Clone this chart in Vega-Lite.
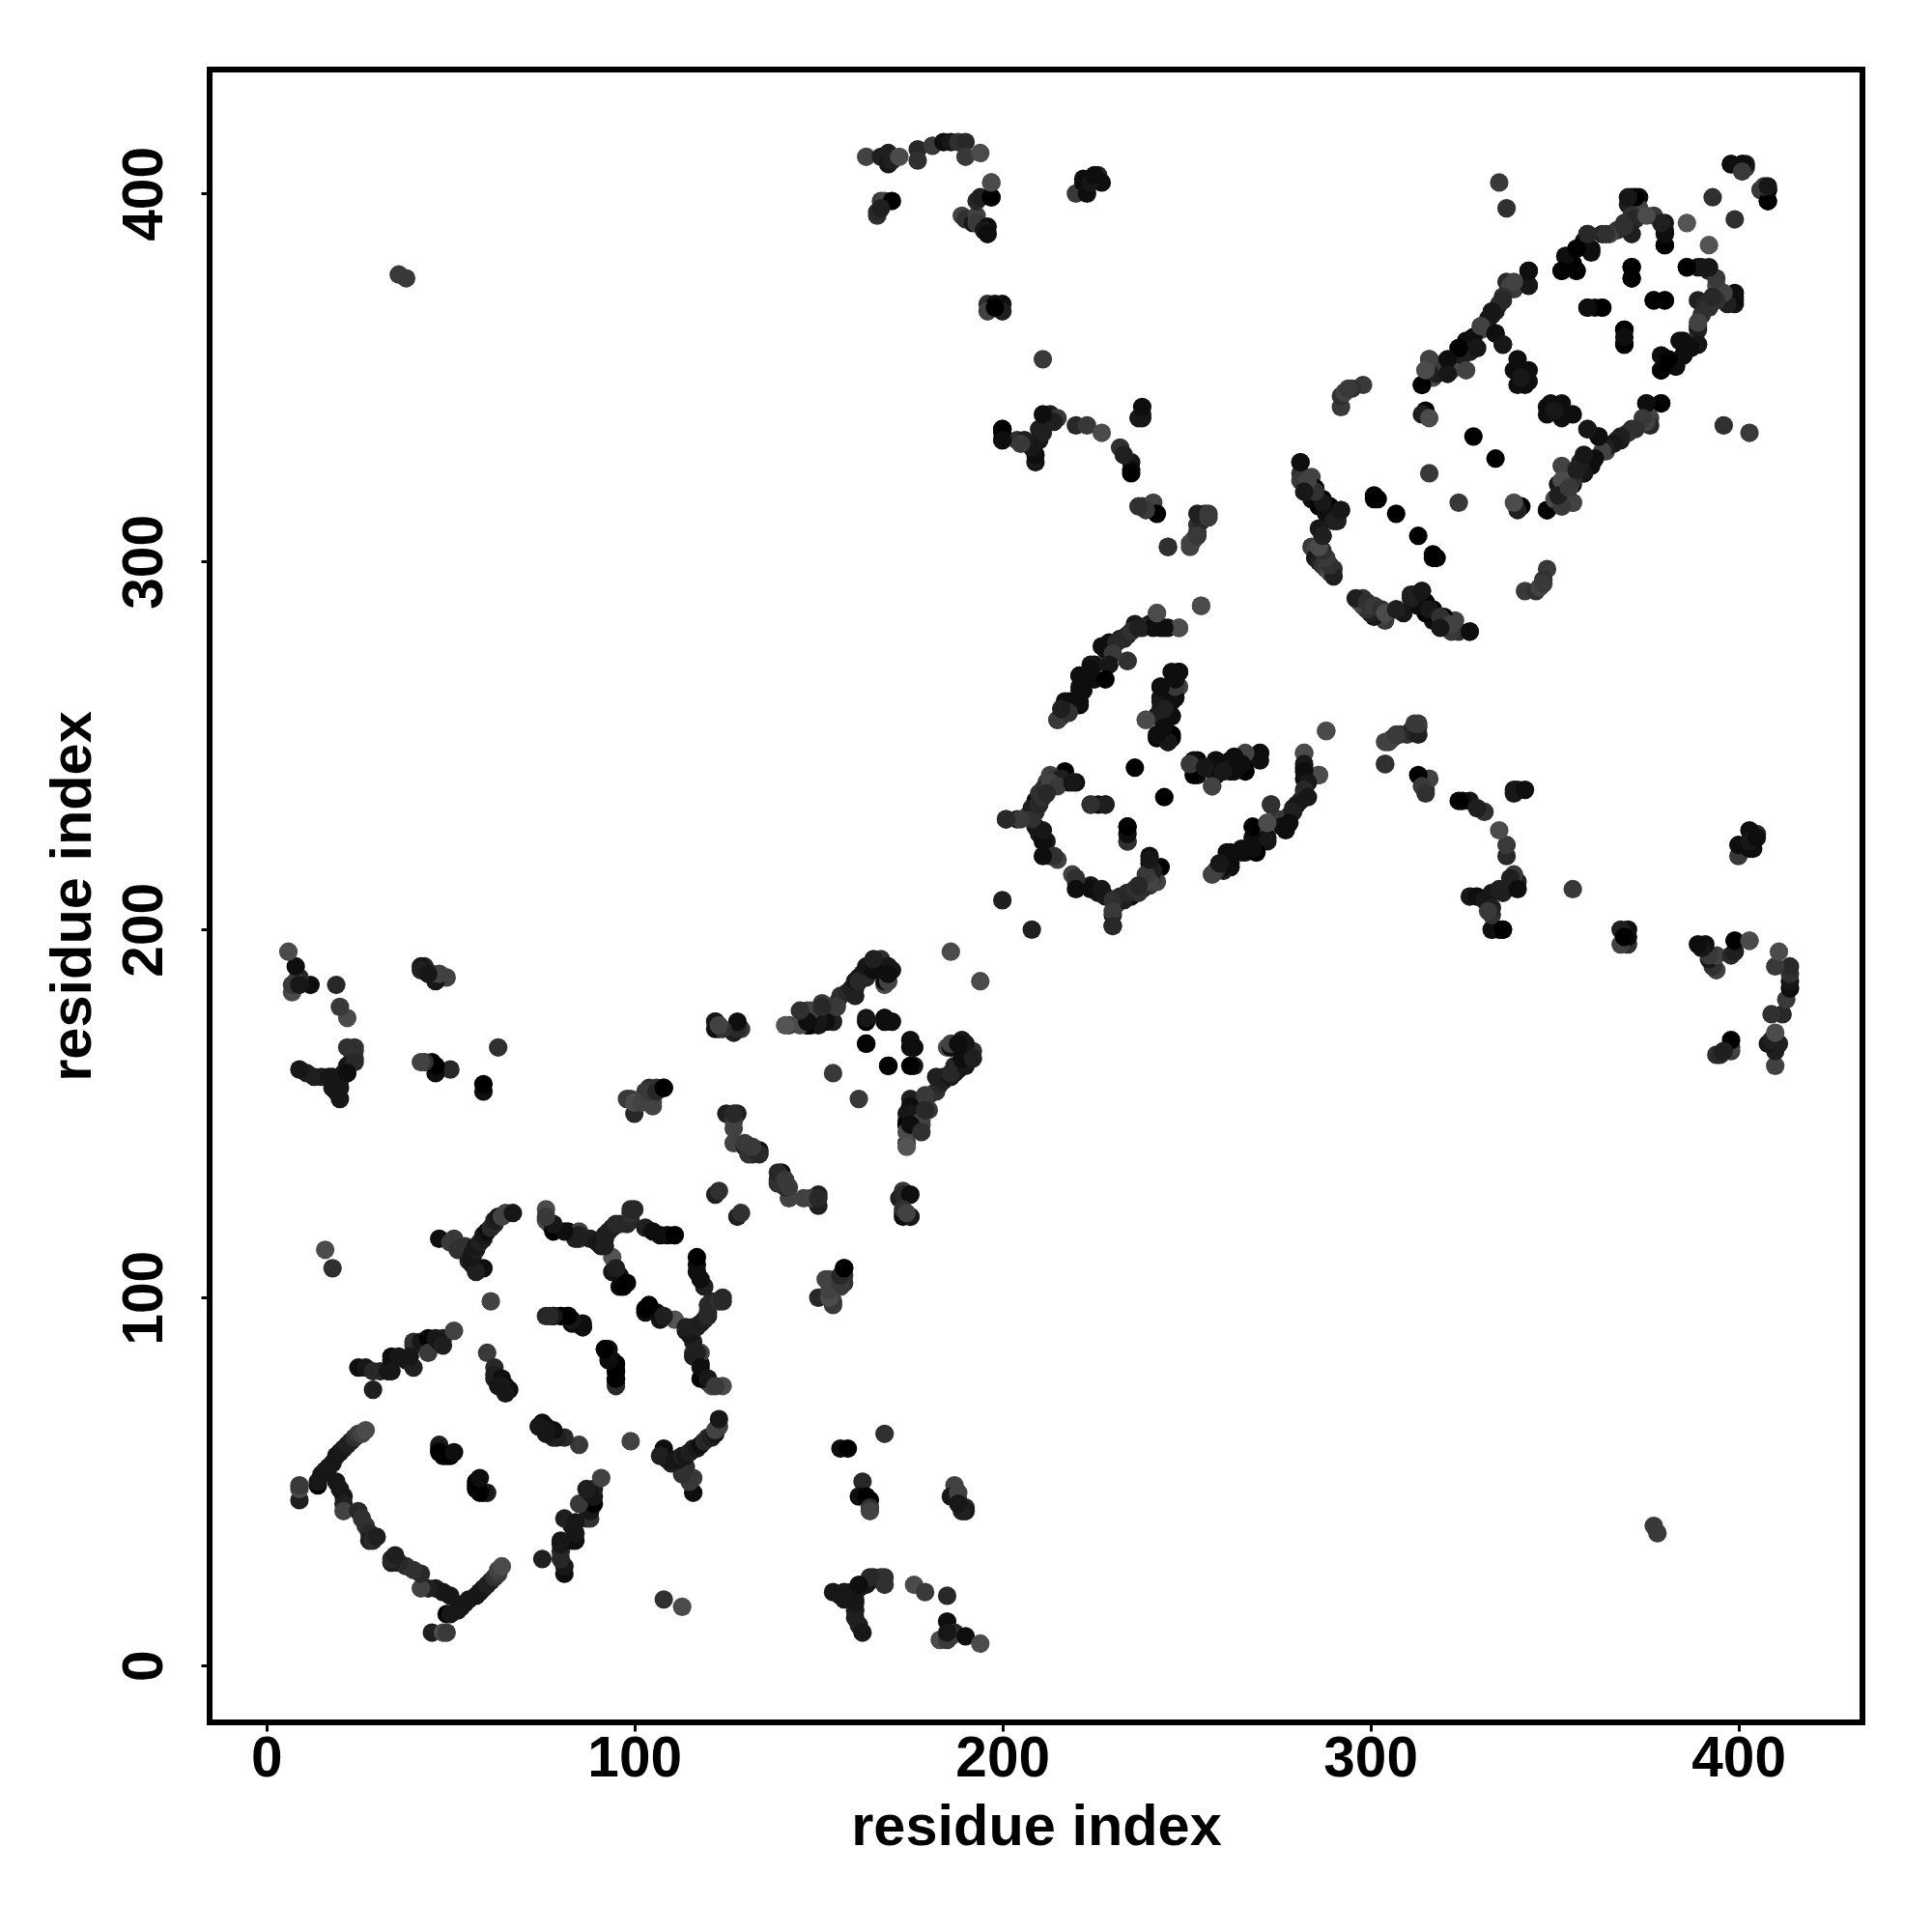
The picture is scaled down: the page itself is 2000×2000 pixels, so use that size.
{"$schema":"https://vega.github.io/schema/vega-lite/v6.json","autosize":{"type":"none"},"padding":{"left":217,"top":72,"right":72,"bottom":217},"width":1711,"height":1711,"background":"white","view":{"stroke":"black","strokeWidth":6,"fill":"white"},"datasets":{"contacts":[
{"a":9,"b":45,"p":0.7},{"a":9,"b":48,"p":0.2},{"a":9,"b":49,"p":0.4},{"a":14,"b":49,"p":1},{"a":14,"b":50,"p":0.8},{"a":15,"b":52,"p":0.8},{"a":16,"b":53,"p":0.8},{"a":17,"b":54,"p":0.8},{"a":18,"b":55,"p":0.8},{"a":19,"b":57,"p":0.8},{"a":20,"b":58,"p":0.8},{"a":21,"b":59,"p":0.8},{"a":22,"b":60,"p":0.7},{"a":23,"b":61,"p":0.7},{"a":24,"b":62,"p":0.5},{"a":25,"b":63,"p":0.4},{"a":26,"b":63,"p":0.3},{"a":27,"b":64,"p":0.2},
{"a":19,"b":50,"p":0.8},{"a":20,"b":48,"p":0.8},{"a":21,"b":46,"p":0.8},{"a":21,"b":44,"p":0.7},{"a":21,"b":42,"p":0.3},{"a":25,"b":42,"p":0.6},{"a":26,"b":40,"p":0.5},{"a":27,"b":38,"p":0.5},{"a":28,"b":36,"p":0.6},{"a":28,"b":34,"p":0.7},{"a":29,"b":34,"p":0.6},{"a":30,"b":35,"p":0.7},
{"a":47,"b":60,"p":0.7},{"a":47,"b":59,"p":0.8},{"a":47,"b":58,"p":1},{"a":48,"b":57,"p":1},{"a":49,"b":57,"p":1},{"a":50,"b":57,"p":1},{"a":51,"b":58,"p":0.9},
{"a":25,"b":81,"p":0.9},{"a":27,"b":81,"p":0.8},{"a":29,"b":80,"p":0.6},{"a":29,"b":75,"p":0.7},{"a":31,"b":80,"p":0.6},{"a":33,"b":80,"p":0.8},{"a":34,"b":83,"p":0.9},{"a":34,"b":84,"p":0.9},{"a":36,"b":84,"p":0.8},{"a":38,"b":83,"p":0.8},{"a":40,"b":81,"p":0.7},{"a":40,"b":87,"p":0.6},{"a":40,"b":88,"p":0.5},{"a":42,"b":88,"p":0.8},{"a":44,"b":89,"p":1},{"a":44,"b":85,"p":0.4},{"a":46,"b":89,"p":0.8},{"a":48,"b":89,"p":0.7},{"a":51,"b":91,"p":0.3},{"a":47,"b":88,"p":0.8},{"a":48,"b":87,"p":0.7},{"a":39,"b":84,"p":0.8},{"a":34,"b":80,"p":0.8},
{"a":60,"b":85,"p":0.4},{"a":62,"b":81,"p":0.6},{"a":62,"b":79,"p":0.7},{"a":62,"b":78,"p":0.7},{"a":64,"b":78,"p":0.9},{"a":65,"b":76,"p":0.9},{"a":63,"b":76,"p":0.8},{"a":66,"b":75,"p":0.9},{"a":61,"b":99,"p":0.3},{"a":65,"b":74,"p":0.8},{"a":64,"b":76,"p":0.8},
{"a":47,"b":116,"p":0.9},{"a":51,"b":116,"p":0.4},{"a":53,"b":113,"p":0.1},{"a":50,"b":115,"p":0.4},{"a":52,"b":113,"p":0.5},{"a":54,"b":114,"p":0.5},{"a":55,"b":110,"p":0.7},{"a":56,"b":110,"p":0.8},{"a":56,"b":109,"p":0.8},{"a":57,"b":108,"p":0.8},{"a":59,"b":108,"p":0.9},{"a":57,"b":107,"p":0.7},{"a":56,"b":111,"p":0.8},{"a":56,"b":112,"p":0.8},{"a":57,"b":113,"p":0.7},{"a":57,"b":114,"p":0.8},{"a":58,"b":115,"p":0.7},{"a":59,"b":116,"p":0.7},{"a":59,"b":117,"p":0.8},{"a":60,"b":118,"p":0.9},{"a":61,"b":119,"p":0.6},{"a":62,"b":120,"p":0.6},{"a":62,"b":121,"p":0.7},{"a":63,"b":122,"p":0.8},{"a":64,"b":122,"p":0.3},{"a":65,"b":123,"p":0.3},{"a":67,"b":123,"p":0.8},{"a":16,"b":113,"p":0.2},{"a":18,"b":108,"p":0.5},
{"a":76,"b":124,"p":0.2},{"a":76,"b":121,"p":0.2},{"a":77,"b":120,"p":0.3},{"a":78,"b":119,"p":0.7},{"a":78,"b":118,"p":1},{"a":82,"b":118,"p":0.9},{"a":84,"b":117,"p":0.5},{"a":85,"b":116,"p":0.4},{"a":85,"b":118,"p":0.3},{"a":88,"b":116,"p":0.7},{"a":90,"b":115,"p":0.8},{"a":91,"b":114,"p":0.8},{"a":92,"b":116,"p":0.8},{"a":92,"b":117,"p":0.7},{"a":93,"b":118,"p":0.7},{"a":94,"b":119,"p":0.7},{"a":95,"b":120,"p":0.6},{"a":96,"b":120,"p":0.6},{"a":98,"b":120,"p":0.6},{"a":99,"b":121,"p":0.6},{"a":99,"b":123,"p":0.5},{"a":100,"b":124,"p":0.6},{"a":99,"b":124,"p":0.6},
{"a":103,"b":119,"p":0.7},{"a":105,"b":118,"p":0.9},{"a":107,"b":117,"p":0.9},{"a":109,"b":117,"p":0.9},{"a":111,"b":117,"p":1},{"a":94,"b":111,"p":0.1},{"a":94,"b":107,"p":0.8},{"a":95,"b":107,"p":0.8},{"a":96,"b":106,"p":0.9},{"a":96,"b":103,"p":0.9},{"a":97,"b":103,"p":1},{"a":98,"b":104,"p":1},{"a":95,"b":108,"p":0.7},
{"a":76,"b":95,"p":0.6},{"a":78,"b":95,"p":1},{"a":80,"b":95,"p":1},{"a":82,"b":95,"p":1},{"a":83,"b":93,"p":0.9},{"a":84,"b":93,"p":0.9},{"a":86,"b":92,"p":1},{"a":92,"b":86,"p":0.9},{"a":93,"b":86,"p":0.9},{"a":94,"b":83,"p":0.8},{"a":95,"b":82,"p":1},{"a":95,"b":80,"p":1},{"a":95,"b":78,"p":0.8},{"a":95,"b":77,"p":0.6},
{"a":84,"b":116,"p":0.7},{"a":85,"b":117,"p":0.7},{"a":81,"b":118,"p":0.9},{"a":78,"b":120,"p":0.8},{"a":76,"b":122,"p":0.4},{"a":92,"b":114,"p":0.7},
{"a":108,"b":157,"p":1},{"a":105,"b":153,"p":0.2},{"a":104,"b":157,"p":0.5},{"a":103,"b":156,"p":0.4},{"a":100,"b":150,"p":0.6},{"a":99,"b":154,"p":0.3},{"a":106,"b":157,"p":0.5},
{"a":20,"b":154,"p":0.8},{"a":19,"b":156,"p":0.8},{"a":18,"b":157,"p":0.8},{"a":19,"b":158,"p":0.8},{"a":20,"b":159,"p":0.7},{"a":21,"b":161,"p":0.7},{"a":22,"b":162,"p":0.7},{"a":23,"b":164,"p":0.6},{"a":24,"b":165,"p":0.6},{"a":24,"b":167,"p":0.5},{"a":24,"b":168,"p":0.5},{"a":22,"b":168,"p":0.5},{"a":13,"b":160,"p":0.7},{"a":15,"b":160,"p":0.7},{"a":11,"b":161,"p":0.7},{"a":9,"b":162,"p":0.8},{"a":17,"b":160,"p":0.8},{"a":18,"b":160,"p":0.8},{"a":22,"b":176,"p":0.2},{"a":20,"b":179,"p":0.4},{"a":19,"b":185,"p":0.6},{"a":12,"b":185,"p":0.9},{"a":9,"b":187,"p":0.6},{"a":7,"b":183,"p":0.2},{"a":7,"b":185,"p":0.4},{"a":8,"b":186,"p":0.4},{"a":9,"b":185,"p":0.8},{"a":8,"b":190,"p":0.9},{"a":6,"b":194,"p":0.2},{"a":19,"b":159,"p":0.8},{"a":20,"b":157,"p":0.8},{"a":22,"b":163,"p":0.8},{"a":24,"b":164,"p":0.6},{"a":22,"b":161,"p":0.9},
{"a":59,"b":156,"p":0.9},{"a":59,"b":158,"p":1},{"a":63,"b":168,"p":0.5},{"a":50,"b":162,"p":0.6},{"a":46,"b":161,"p":0.9},{"a":46,"b":163,"p":1},{"a":45,"b":164,"p":1},{"a":43,"b":164,"p":0.5},{"a":42,"b":164,"p":0.3},{"a":49,"b":187,"p":0.3},{"a":46,"b":186,"p":0.8},{"a":45,"b":188,"p":0.6},{"a":43,"b":190,"p":0.6},{"a":42,"b":190,"p":0.8},{"a":47,"b":188,"p":0.3},{"a":42,"b":189,"p":0.7},{"a":44,"b":188,"p":0.8},
{"a":122,"b":175,"p":0.7},{"a":123,"b":173,"p":0.4},{"a":122,"b":173,"p":0.9},{"a":128,"b":174,"p":1},{"a":129,"b":173,"p":0.4},{"a":127,"b":172,"p":0.7},{"a":142,"b":174,"p":0.4},{"a":147,"b":174,"p":1},{"a":148,"b":174,"p":0.8},{"a":150,"b":174,"p":0.8},{"a":150,"b":175,"p":0.7},{"a":154,"b":175,"p":0.7},{"a":147,"b":178,"p":0.4},{"a":151,"b":180,"p":0.4},{"a":155,"b":180,"p":0.4},{"a":151,"b":178,"p":0.3},{"a":163,"b":175,"p":1},{"a":168,"b":176,"p":0.9},{"a":170,"b":175,"p":0.9},{"a":168,"b":175,"p":0.9},{"a":163,"b":169,"p":1},{"a":154,"b":161,"p":0.4},{"a":169,"b":163,"p":1},
{"a":156,"b":182,"p":0.5},{"a":158,"b":183,"p":0.6},{"a":159,"b":184,"p":0.7},{"a":160,"b":185,"p":0.7},{"a":161,"b":187,"p":0.7},{"a":162,"b":188,"p":0.8},{"a":163,"b":187,"p":0.6},{"a":164,"b":189,"p":0.6},{"a":165,"b":190,"p":0.6},{"a":166,"b":191,"p":0.5},{"a":167,"b":192,"p":0.5},{"a":169,"b":190,"p":0.8},{"a":170,"b":189,"p":0.8},{"a":168,"b":185,"p":0.2},{"a":160,"b":182,"p":0.7},{"a":160,"b":184,"p":0.7},{"a":160,"b":186,"p":0.8},{"a":161,"b":186,"p":0.6},{"a":163,"b":190,"p":0.8},{"a":165,"b":189,"p":0.9},{"a":165,"b":192,"p":0.7},{"a":168,"b":186,"p":0.9},{"a":169,"b":186,"p":0.3},{"a":169,"b":188,"p":0.9},{"a":186,"b":194,"p":0.2},{"a":176,"b":168,"p":0.9},{"a":176,"b":163,"p":0.8},{"a":152,"b":175,"p":0.9},{"a":147,"b":174,"p":1},{"a":155,"b":179,"p":0.4},{"a":150,"b":175,"p":0.8},{"a":145,"b":174,"p":0.2},{"a":148,"b":178,"p":0.3},
{"a":98,"b":154,"p":0.4},{"a":100,"b":153,"p":0.2},{"a":102,"b":153,"p":0.3},{"a":105,"b":152,"p":0.3},{"a":104,"b":156,"p":0.4},{"a":106,"b":156,"p":0.6},{"a":108,"b":157,"p":1},
{"a":125,"b":150,"p":0.7},{"a":128,"b":150,"p":0.7},{"a":127,"b":148,"p":0.4},{"a":127,"b":146,"p":0.3},{"a":127,"b":142,"p":0.3},{"a":130,"b":141,"p":0.6},{"a":131,"b":140,"p":0.8},{"a":132,"b":139,"p":0.7},{"a":133,"b":140,"p":0.8},{"a":134,"b":140,"p":0.9},{"a":131,"b":139,"p":0.5},{"a":134,"b":139,"p":0.6},{"a":132,"b":141,"p":0.4},{"a":130,"b":142,"p":0.4},{"a":127,"b":150,"p":0.6},{"a":122,"b":128,"p":0.7},{"a":123,"b":129,"p":0.5},{"a":128,"b":173,"p":0.6},{"a":128,"b":175,"p":0.9},{"a":124,"b":173,"p":0.5},{"a":122,"b":175,"p":0.8},{"a":123,"b":174,"p":0.3},{"a":141,"b":174,"p":0.1},{"a":147,"b":175,"p":0.9},{"a":151,"b":179,"p":0.6},{"a":145,"b":178,"p":0.5},
{"a":398,"b":408,"p":1},{"a":401,"b":408,"p":1},{"a":402,"b":407,"p":0.4},{"a":402,"b":408,"p":0.8},{"a":408,"b":401,"p":0.9},{"a":408,"b":398,"p":0.9},{"a":406,"b":401,"p":0.4},{"a":393,"b":399,"p":0.5},{"a":386,"b":392,"p":0.1},{"a":335,"b":403,"p":0.4},{"a":337,"b":396,"p":0.5},
{"a":371,"b":399,"p":0.9},{"a":373,"b":399,"p":0.9},{"a":370,"b":397,"p":0.7},{"a":373,"b":396,"p":0.3},{"a":377,"b":394,"p":0.4},{"a":380,"b":392,"p":0.8},{"a":380,"b":390,"p":0.8},{"a":380,"b":386,"p":1},{"a":370,"b":391,"p":0.6},{"a":369,"b":392,"p":0.5},{"a":371,"b":394,"p":0.5},{"a":367,"b":390,"p":0.5},{"a":372,"b":393,"p":0.6},{"a":363,"b":389,"p":0.7},{"a":365,"b":389,"p":0.3},{"a":359,"b":389,"p":0.8},{"a":360,"b":385,"p":0.9},{"a":356,"b":385,"p":0.9},{"a":353,"b":383,"p":0.9},{"a":352,"b":379,"p":1},{"a":356,"b":379,"p":0.9},{"a":355,"b":381,"p":1},{"a":358,"b":387,"p":0.9},{"a":343,"b":379,"p":1},{"a":343,"b":375,"p":0.9},{"a":337,"b":376,"p":0.6},{"a":338,"b":375,"p":0.3},{"a":339,"b":374,"p":0.4},{"a":336,"b":372,"p":0.5},{"a":335,"b":370,"p":0.5},{"a":334,"b":368,"p":0.7},{"a":333,"b":367,"p":0.7},{"a":332,"b":366,"p":0.8},{"a":331,"b":364,"p":0.7},{"a":330,"b":363,"p":0.3},{"a":328,"b":361,"p":0.9},{"a":326,"b":360,"p":0.9},{"a":324,"b":358,"p":0.8},{"a":322,"b":355,"p":0.5},{"a":321,"b":353,"p":0.5},{"a":316,"b":355,"p":0.3},{"a":314,"b":348,"p":1},{"a":317,"b":350,"p":0.2},{"a":322,"b":352,"p":0.2},{"a":334,"b":362,"p":0.9},{"a":336,"b":359,"p":0.8},{"a":325,"b":356,"p":0.7},{"a":327,"b":357,"p":0.7},{"a":329,"b":358,"p":0.8},{"a":315,"b":352,"p":0.4},{"a":318,"b":351,"p":0.7},{"a":320,"b":354,"p":0.4},
{"a":386,"b":380,"p":1},{"a":389,"b":380,"p":0.9},{"a":392,"b":379,"p":0.7},{"a":394,"b":375,"p":0.2},{"a":399,"b":372,"p":1},{"a":399,"b":370,"p":0.8},{"a":389,"b":371,"p":0.7},{"a":391,"b":369,"p":0.5},{"a":389,"b":364,"p":0.5},{"a":389,"b":359,"p":0.6},{"a":384,"b":360,"p":0.9},{"a":383,"b":353,"p":0.9},{"a":379,"b":356,"p":1},{"a":379,"b":352,"p":1},{"a":385,"b":356,"p":1},
{"a":375,"b":343,"p":0.8},{"a":379,"b":343,"p":0.9},{"a":376,"b":339,"p":0.3},{"a":371,"b":336,"p":0.6},{"a":368,"b":333,"p":0.8},{"a":364,"b":330,"p":0.3},{"a":362,"b":334,"p":0.9},{"a":359,"b":336,"p":0.8},{"a":358,"b":324,"p":1},{"a":355,"b":321,"p":0.9},{"a":355,"b":316,"p":0.3},{"a":351,"b":321,"p":0.8},{"a":348,"b":314,"p":1},{"a":352,"b":315,"p":0.2},{"a":352,"b":326,"p":0.3},
{"a":371,"b":380,"p":1},{"a":371,"b":377,"p":1},{"a":377,"b":371,"p":1},{"a":380,"b":371,"p":1},{"a":359,"b":369,"p":1},{"a":363,"b":369,"p":1},{"a":361,"b":369,"p":0.9},{"a":369,"b":363,"p":1},{"a":369,"b":359,"p":0.9},
{"a":340,"b":355,"p":0.9},{"a":339,"b":352,"p":0.9},{"a":340,"b":352,"p":0.9},{"a":343,"b":352,"p":0.9},{"a":342,"b":348,"p":0.9},{"a":340,"b":348,"p":0.9},{"a":343,"b":349,"p":0.9},{"a":341,"b":350,"p":0.8},{"a":315,"b":341,"p":1},{"a":314,"b":340,"p":0.7},{"a":316,"b":339,"p":0.2},{"a":328,"b":334,"p":1},{"a":316,"b":324,"p":0.4},{"a":301,"b":317,"p":1},{"a":301,"b":318,"p":1},{"a":307,"b":313,"p":1},{"a":302,"b":317,"p":1},
{"a":281,"b":327,"p":0.7},{"a":281,"b":324,"p":0.5},{"a":281,"b":322,"p":0.4},{"a":284,"b":323,"p":0.3},{"a":285,"b":320,"p":1},{"a":283,"b":320,"p":0.7},{"a":284,"b":317,"p":0.9},{"a":287,"b":317,"p":1},{"a":286,"b":315,"p":1},{"a":289,"b":315,"p":1},{"a":288,"b":313,"p":0.9},{"a":292,"b":314,"p":0.7},{"a":291,"b":312,"p":0.8},{"a":290,"b":311,"p":0.7},{"a":287,"b":307,"p":0.7},{"a":286,"b":309,"p":0.8},{"a":284,"b":304,"p":0.4},{"a":285,"b":303,"p":0.3},{"a":285,"b":301,"p":0.8},{"a":286,"b":300,"p":0.7},{"a":287,"b":299,"p":0.5},{"a":288,"b":298,"p":0.4},{"a":289,"b":297,"p":0.2},{"a":290,"b":298,"p":0.5},
{"a":290,"b":296,"p":0.7},{"a":289,"b":299,"p":0.5},{"a":288,"b":301,"p":0.4},{"a":287,"b":303,"p":0.5},{"a":286,"b":304,"p":0.2},{"a":287,"b":307,"p":0.7},{"a":291,"b":311,"p":0.7},{"a":292,"b":314,"p":0.8},{"a":287,"b":316,"p":0.8},{"a":285,"b":319,"p":0.5},{"a":283,"b":322,"p":0.3},{"a":281,"b":327,"p":0.9},{"a":282,"b":319,"p":0.8},
{"a":298,"b":348,"p":0.4},{"a":295,"b":347,"p":0.5},{"a":292,"b":342,"p":0.4},{"a":292,"b":345,"p":0.5},{"a":293,"b":346,"p":0.3},{"a":294,"b":347,"p":0.4},{"a":211,"b":355,"p":0.4},
{"a":196,"b":370,"p":0.5},{"a":198,"b":370,"p":0.9},{"a":200,"b":370,"p":0.9},{"a":200,"b":368,"p":0.7},{"a":196,"b":368,"p":0.3},
{"a":163,"b":410,"p":0.3},{"a":167,"b":410,"p":0.7},{"a":169,"b":411,"p":0.7},{"a":169,"b":408,"p":0.8},{"a":170,"b":409,"p":0.7},{"a":172,"b":410,"p":0.2},{"a":177,"b":412,"p":0.6},{"a":177,"b":409,"p":0.5},{"a":181,"b":413,"p":0.4},{"a":184,"b":414,"p":0.9},{"a":186,"b":414,"p":0.8},{"a":188,"b":414,"p":0.5},{"a":190,"b":414,"p":0.6},{"a":190,"b":410,"p":0.4},{"a":194,"b":411,"p":0.2},{"a":167,"b":398,"p":0.4},{"a":168,"b":398,"p":0.3},{"a":170,"b":398,"p":1},{"a":166,"b":394,"p":0.5},{"a":166,"b":395,"p":0.6},{"a":167,"b":396,"p":0.7},{"a":189,"b":394,"p":0.3},{"a":190,"b":393,"p":0.5},{"a":192,"b":392,"p":0.8},{"a":193,"b":394,"p":0.3},{"a":193,"b":398,"p":0.6},{"a":194,"b":399,"p":0.7},{"a":193,"b":392,"p":0.4},{"a":197,"b":403,"p":0.2},{"a":197,"b":399,"p":0.9},{"a":196,"b":391,"p":0.9},{"a":195,"b":390,"p":0.8},
{"a":220,"b":400,"p":0.4},{"a":223,"b":400,"p":0.9},{"a":222,"b":403,"p":0.9},{"a":222,"b":404,"p":0.9},{"a":226,"b":405,"p":0.6},{"a":227,"b":403,"p":0.9},{"a":224,"b":403,"p":0.8},{"a":36,"b":378,"p":0.4},{"a":38,"b":377,"p":0.4},
{"a":200,"b":335,"p":1},{"a":200,"b":333,"p":0.9},{"a":204,"b":333,"p":0.5},{"a":207,"b":332,"p":0.7},{"a":209,"b":327,"p":0.8},{"a":209,"b":329,"p":0.9},{"a":210,"b":333,"p":0.8},{"a":208,"b":331,"p":0.8},{"a":210,"b":336,"p":0.7},{"a":212,"b":339,"p":0.7},{"a":213,"b":340,"p":0.7},{"a":215,"b":339,"p":0.4},{"a":211,"b":335,"p":0.7},{"a":220,"b":337,"p":0.6},{"a":223,"b":337,"p":0.4},{"a":227,"b":335,"p":0.2},{"a":238,"b":340,"p":0.7},{"a":237,"b":339,"p":0.8},{"a":238,"b":339,"p":0.8},{"a":232,"b":331,"p":0.5},{"a":235,"b":327,"p":0.8},{"a":235,"b":325,"p":0.9},{"a":235,"b":324,"p":1},{"a":233,"b":329,"p":0.7},{"a":206,"b":333,"p":0.7},{"a":205,"b":332,"p":0.4},
{"a":238,"b":315,"p":0.5},{"a":241,"b":316,"p":0.3},{"a":242,"b":313,"p":1},{"a":239,"b":314,"p":0.4},{"a":245,"b":304,"p":0.4},{"a":251,"b":304,"p":0.3},{"a":252,"b":306,"p":0.4},{"a":253,"b":308,"p":0.5},{"a":253,"b":310,"p":0.5},{"a":254,"b":311,"p":0.6},{"a":255,"b":313,"p":0.5},{"a":253,"b":313,"p":0.7},{"a":256,"b":313,"p":0.4},{"a":251,"b":305,"p":0.3},
{"a":254,"b":288,"p":0.2},{"a":242,"b":286,"p":0.2},{"a":248,"b":282,"p":0.2},{"a":245,"b":282,"p":0.8},{"a":243,"b":282,"p":0.9},{"a":240,"b":283,"p":0.8},{"a":238,"b":282,"p":0.6},{"a":236,"b":283,"p":0.8},{"a":234,"b":280,"p":0.8},{"a":232,"b":279,"p":0.7},{"a":229,"b":278,"p":0.9},{"a":228,"b":276,"p":0.9},{"a":227,"b":277,"p":0.9},{"a":225,"b":272,"p":0.9},{"a":224,"b":272,"p":0.8},{"a":221,"b":269,"p":1},{"a":222,"b":268,"p":0.9},{"a":221,"b":265,"p":0.9},{"a":218,"b":262,"p":0.9},{"a":221,"b":261,"p":0.9},{"a":217,"b":260,"p":0.9},{"a":216,"b":258,"p":0.5},{"a":215,"b":257,"p":0.3},{"a":218,"b":259,"p":0.8},{"a":234,"b":273,"p":0.5},{"a":229,"b":272,"p":0.2},
{"a":248,"b":270,"p":0.9},{"a":246,"b":270,"p":0.9},{"a":248,"b":266,"p":0.3},{"a":243,"b":266,"p":1},{"a":243,"b":263,"p":0.9},{"a":245,"b":265,"p":0.9},{"a":247,"b":263,"p":0.9},{"a":246,"b":258,"p":0.9},{"a":242,"b":258,"p":0.9},{"a":239,"b":257,"p":0.3},{"a":242,"b":252,"p":1},{"a":246,"b":252,"p":0.9},{"a":245,"b":251,"p":0.4},{"a":244,"b":255,"p":0.8},{"a":243,"b":260,"p":0.8},{"a":236,"b":244,"p":1},
{"a":253,"b":246,"p":1},{"a":251,"b":245,"p":0.8},{"a":258,"b":246,"p":0.9},{"a":258,"b":242,"p":0.7},{"a":257,"b":239,"p":0.2},{"a":253,"b":242,"p":0.9},{"a":262,"b":243,"p":0.8},{"a":262,"b":246,"p":0.9},{"a":266,"b":247,"p":0.4},{"a":270,"b":248,"p":0.9},{"a":266,"b":243,"p":0.9},{"a":268,"b":247,"p":0.9},{"a":255,"b":244,"p":0.9},{"a":260,"b":244,"p":0.7},
{"a":282,"b":248,"p":0.2},{"a":282,"b":244,"p":0.9},{"a":282,"b":241,"p":0.9},{"a":286,"b":242,"p":0.2},{"a":288,"b":254,"p":0.2},{"a":273,"b":234,"p":0.5},{"a":279,"b":233,"p":0.6},{"a":281,"b":235,"p":0.5},{"a":282,"b":237,"p":0.7},{"a":277,"b":229,"p":0.9},{"a":278,"b":231,"p":0.6},{"a":275,"b":230,"p":0.4},{"a":272,"b":229,"p":0.8},{"a":268,"b":225,"p":0.9},{"a":268,"b":228,"p":1},{"a":269,"b":221,"p":0.9},{"a":271,"b":224,"p":0.9},{"a":265,"b":222,"p":0.9},{"a":262,"b":221,"p":0.9},{"a":262,"b":217,"p":0.9},{"a":257,"b":215,"p":0.4},{"a":259,"b":218,"p":0.5},{"a":260,"b":216,"p":0.7},{"a":266,"b":221,"p":0.9},
{"a":201,"b":230,"p":0.8},{"a":204,"b":230,"p":0.7},{"a":207,"b":231,"p":0.5},{"a":209,"b":235,"p":0.9},{"a":212,"b":240,"p":0.4},{"a":217,"b":243,"p":1},{"a":218,"b":240,"p":0.9},{"a":220,"b":240,"p":0.9},{"a":213,"b":242,"p":0.3},{"a":209,"b":228,"p":0.8},{"a":212,"b":224,"p":0.8},{"a":213,"b":220,"p":0.6},{"a":215,"b":219,"p":0.3},{"a":210,"b":226,"p":0.8},{"a":211,"b":238,"p":0.6},{"a":214,"b":241,"p":0.4},{"a":216,"b":241,"p":0.7},{"a":209,"b":232,"p":0.6},{"a":210,"b":237,"p":0.5},{"a":208,"b":233,"p":0.7},{"a":210,"b":234,"p":0.4},
{"a":224,"b":234,"p":0.5},{"a":226,"b":234,"p":0.9},{"a":228,"b":234,"p":1},{"a":234,"b":228,"p":0.7},{"a":234,"b":224,"p":0.5},{"a":214,"b":220,"p":0.5},{"a":211,"b":220,"p":0.9},{"a":211,"b":224,"p":0.9},{"a":211,"b":227,"p":0.8},{"a":208,"b":230,"p":0.5},{"a":205,"b":230,"p":0.4},{"a":201,"b":230,"p":0.6},{"a":210,"b":234,"p":0.6},{"a":211,"b":236,"p":0.5},{"a":213,"b":240,"p":0.3},{"a":215,"b":239,"p":0.4},{"a":219,"b":240,"p":0.8},{"a":200,"b":208,"p":0.7},{"a":212,"b":237,"p":0.6},
{"a":214,"b":338,"p":0.7},{"a":211,"b":340,"p":0.9},{"a":200,"b":336,"p":1},{"a":336,"b":200,"p":1},{"a":333,"b":200,"p":0.9},
{"a":245,"b":304,"p":0.5},{"a":253,"b":307,"p":0.4},{"a":256,"b":312,"p":0.4},{"a":237,"b":315,"p":0.5},{"a":238,"b":342,"p":0.9},{"a":225,"b":405,"p":0.9},{"a":196,"b":389,"p":0.9},{"a":197,"b":399,"p":1},{"a":197,"b":403,"p":0.2},{"a":198,"b":369,"p":1}
]},"layer":[
{"data":{"name":"contacts"},"mark":{"type":"point","filled":true,"shape":"circle","opacity":1,"size":370},"encoding":{
"x":{"field":"a","type":"quantitative","scale":{"domain":[-15.4,433.7],"nice":false,"zero":false},"axis":{"values":[0,100,200,300,400],"grid":false,"domain":false,"tickColor":"black","tickWidth":3,"tickSize":9,"labelFont":"Liberation Sans","labelFontWeight":"bold","labelFontSize":58.5,"labelColor":"black","labelPadding":0,"labelFlush":false,"title":"residue index","titleFont":"Liberation Sans","titleFontWeight":"bold","titleFontSize":59.5,"titleColor":"black","titlePadding":13}},
"y":{"field":"b","type":"quantitative","scale":{"domain":[-15.4,433.7],"nice":false,"zero":false},"axis":{"values":[0,100,200,300,400],"grid":false,"domain":false,"tickColor":"black","tickWidth":3,"tickSize":9,"labelFont":"Liberation Sans","labelFontWeight":"bold","labelFontSize":58.5,"labelColor":"black","labelAngle":270,"labelPadding":28.5,"labelFlush":false,"title":"residue index","titleFont":"Liberation Sans","titleFontWeight":"bold","titleFontSize":59.5,"titleColor":"black","titlePadding":15}},
"color":{"field":"p","type":"quantitative","scale":{"domain":[0,1],"range":["#5e5e5e","#000000"]},"legend":null}}},
{"data":{"name":"contacts"},"mark":{"type":"point","filled":true,"shape":"circle","opacity":1,"size":370},"encoding":{
"x":{"field":"b","type":"quantitative"},
"y":{"field":"a","type":"quantitative"},
"color":{"field":"p","type":"quantitative","scale":{"domain":[0,1],"range":["#5e5e5e","#000000"]},"legend":null}}}
]}
